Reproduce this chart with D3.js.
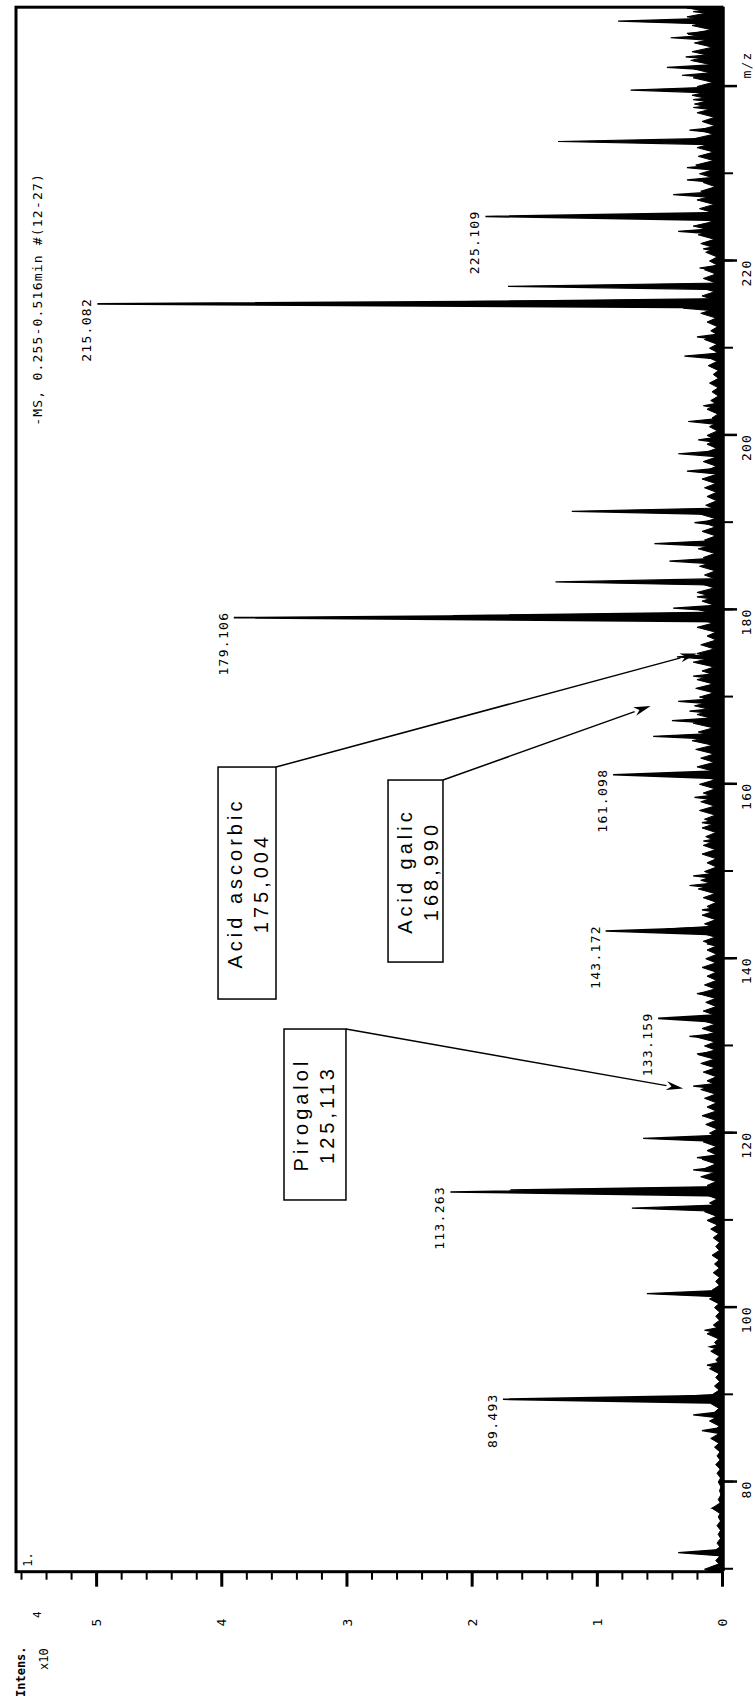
<!DOCTYPE html>
<html>
<head>
<meta charset="utf-8">
<script src="https://cdn.jsdelivr.net/npm/d3@7"></script>
<style>
  body { margin: 0; background: #fff; }
  svg { display: block; }
</style>
</head>
<body>
<svg id="chart" width="755" height="1700"></svg>
<script>
// Labelled peaks of the -MS spectrum (m/z, intensity x10^4)
const peakMz     = [89.493, 113.263, 133.159, 143.172, 161.098, 179.106, 215.082, 225.109];
const peakInt    = [1.75, 2.17, 0.51, 0.93, 0.87, 3.90, 4.99, 1.89];
const peakLabels = ["89.493", "113.263", "133.159", "143.172", "161.098", "179.106", "215.082", "225.109"];

// Unlabelled peaks and shoulders
const minorMz  = [71.9, 77.0, 85.9, 87.7, 89.7, 93.4, 95.5, 97.4, 101.6, 111.4, 113.5, 115.8, 117.2, 119.4, 125.4, 129.1,
                  131.1, 136.0, 141.7, 143.4, 145.6, 148.4, 149.5, 153.5, 155.6, 158.5, 165.5, 167.3, 168.4, 169.5,
                  172.4, 174.6, 179.35, 180.2, 181.5, 183.2, 185.6, 187.6, 190.0, 191.3, 195.9, 197.9, 199.5, 201.6,
                  203.4, 209.1, 211.3, 214.6, 215.3, 217.1, 219.2, 221.4, 223.4, 227.6, 229.3, 230.7, 233.7, 235.0,
                  237.6, 238.5, 239.6, 241.3, 242.2, 243.4, 245.6, 246.1, 247.5, 248.6, 249.0];
const minorInt = [0.35, 0.08, 0.16, 0.23, 0.45, 0.12, 0.10, 0.14, 0.60, 0.72, 1.69, 0.23, 0.20, 0.63, 0.23, 0.20,
                  0.26, 0.20, 0.12, 0.45, 0.16, 0.26, 0.23, 0.15, 0.16, 0.22, 0.55, 0.40, 0.26, 0.35,
                  0.23, 0.36, 2.15, 0.39, 0.20, 1.33, 0.42, 0.54, 0.22, 1.20, 0.28, 0.35, 0.19, 0.27,
                  0.15, 0.30, 0.20, 0.31, 2.40, 1.71, 0.18, 0.15, 0.35, 0.39, 0.28, 0.28, 1.31, 0.26,
                  0.23, 0.23, 0.73, 0.32, 0.44, 0.29, 0.41, 0.28, 0.83, 0.23, 0.28];

// Background noise, one value per nominal mass from m/z 70 to 249
const noiseStartMz = 70;
const noiseInt = [
  0.14, 0.05, 0.07, 0.04, 0.03, 0.04, 0.03, 0.08, 0.03, 0.02,
  0.03, 0.04, 0.05, 0.04, 0.06, 0.09, 0.05, 0.10, 0.06, 0.09,
  0.08, 0.06, 0.05, 0.10, 0.05, 0.09, 0.06, 0.12, 0.07, 0.05,
  0.06, 0.10, 0.08, 0.05, 0.07, 0.06, 0.08, 0.05, 0.07, 0.09,
  0.12, 0.14, 0.10, 0.14, 0.12, 0.17, 0.13, 0.16, 0.12, 0.15,
  0.10, 0.13, 0.16, 0.12, 0.14, 0.17, 0.12, 0.15, 0.17, 0.19,
  0.14, 0.20, 0.16, 0.18, 0.15, 0.13, 0.19, 0.14, 0.12, 0.16,
  0.13, 0.12, 0.15, 0.18, 0.14, 0.16, 0.12, 0.15, 0.19, 0.17,
  0.14, 0.12, 0.16, 0.15, 0.13, 0.16, 0.14, 0.18, 0.17, 0.15,
  0.18, 0.16, 0.20, 0.17, 0.21, 0.24, 0.19, 0.23, 0.20, 0.22,
  0.18, 0.21, 0.20, 0.16, 0.23, 0.20, 0.17, 0.12, 0.20, 0.22,
  0.18, 0.16, 0.20, 0.17, 0.14, 0.18, 0.15, 0.19, 0.14, 0.16,
  0.15, 0.18, 0.13, 0.12, 0.14, 0.16, 0.12, 0.15, 0.14, 0.12,
  0.12, 0.10, 0.08, 0.12, 0.09, 0.08, 0.10, 0.07, 0.11, 0.12,
  0.10, 0.14, 0.09, 0.12, 0.17, 0.21, 0.16, 0.19, 0.15, 0.14,
  0.10, 0.13, 0.17, 0.19, 0.23, 0.21, 0.18, 0.20, 0.17, 0.15,
  0.18, 0.21, 0.19, 0.20, 0.23, 0.18, 0.16, 0.20, 0.22, 0.24,
  0.20, 0.23, 0.22, 0.25, 0.24, 0.22, 0.27, 0.24, 0.28, 0.26
];

// Axis ticks
const intensMinorTicks = d3.range(0, 5.61, 0.2);
const intensTickLabels = [0, 1, 2, 3, 4, 5];
const mzMinorTicks = d3.range(70, 241, 10);
const mzMajorTicks = [80, 100, 120, 140, 160, 180, 200, 220, 240];

// Compound annotations
const annotNames  = ["Acid ascorbic", "Acid galic", "Pirogalol"];
const annotValues = ["175,004", "168,990", "125,113"];
const annotMz     = [175.004, 168.990, 125.113];

// ---------------------------------------------------------------------------
// The spectrum is laid out landscape (m/z across, intensity up) and the
// whole drawing is turned a quarter turn so m/z runs up the page.
const LW = 1700;
const svg = d3.select("#chart");
const g = svg.append("g").attr("transform", `translate(0,${LW}) rotate(-90)`);

const x = d3.scaleLinear().domain([69.72, 249.1]).range([128.3, 1692.8]);
const y = d3.scaleLinear().domain([0, 5.64]).range([722, 16]);

const mono = "'DejaVu Sans Mono', monospace";

g.append("defs").append("clipPath").attr("id", "plotClip")
  .append("rect")
  .attr("x", x.range()[0]).attr("y", y.range()[1])
  .attr("width", x.range()[1] - x.range()[0])
  .attr("height", y.range()[0] - y.range()[1]);

// Spectrum
const spec = g.append("g").attr("clip-path", "url(#plotClip)");
function spike(m, v, hw) {
  return `M${x(m - hw)},${y(0)}L${x(m)},${y(v)}L${x(m + hw)},${y(0)}Z`;
}
const noise = noiseInt.map((v, i) => ({ m: noiseStartMz + i, v }));
spec.selectAll("path.noise").data(noise).join("path")
  .attr("class", "noise")
  .attr("d", d => spike(d.m, d.v, 0.75))
  .attr("fill", "#000").attr("stroke", "#000").attr("stroke-width", 1);

const minor = minorMz.map((m, i) => ({ m, v: minorInt[i] }));
spec.selectAll("path.minor").data(minor).join("path")
  .attr("class", "minor")
  .attr("d", d => spike(d.m, d.v, 0.38))
  .attr("fill", "#000").attr("stroke", "#000").attr("stroke-width", 1.2)
  .attr("stroke-linejoin", "miter");

const peaks = peakMz.map((m, i) => ({ m, v: peakInt[i], label: peakLabels[i] }));
spec.selectAll("path.peak").data(peaks).join("path")
  .attr("class", "peak")
  .attr("d", d => spike(d.m, d.v, 0.45))
  .attr("fill", "#000").attr("stroke", "#000").attr("stroke-width", 1.6)
  .attr("stroke-linejoin", "miter");

// Peak labels
g.selectAll("text.plabel").data(peaks).join("text")
  .attr("class", "plabel")
  .attr("x", d => x(d.m) + 6)
  .attr("y", d => y(d.v) - 6)
  .attr("text-anchor", "end")
  .attr("font-family", mono).attr("font-size", 13)
  .attr("letter-spacing", 1.3)
  .text(d => d.label);

// Frame
g.append("rect")
  .attr("x", x.range()[0]).attr("y", y.range()[1])
  .attr("width", x.range()[1] - x.range()[0])
  .attr("height", y.range()[0] - y.range()[1])
  .attr("fill", "none").attr("stroke", "#000").attr("stroke-width", 3);

// m/z axis
const xAxisY = y(0) + 1;
const xMinor = g.append("g").attr("transform", `translate(0,${xAxisY})`)
  .call(d3.axisBottom(x).tickValues(mzMinorTicks).tickSize(10).tickSizeOuter(0).tickFormat(""));
xMinor.select(".domain").attr("stroke-width", 2.5);
xMinor.selectAll(".tick line").attr("stroke-width", 2);

const xMajor = g.append("g").attr("transform", `translate(0,${xAxisY})`)
  .call(d3.axisBottom(x).tickValues(mzMajorTicks).tickSize(14).tickSizeOuter(0)
    .tickFormat(d => d === 240 ? "" : d));
xMajor.select(".domain").remove();
xMajor.selectAll(".tick line").attr("stroke-width", 2.5);
xMajor.selectAll(".tick text")
  .attr("text-anchor", "end").attr("x", 1).attr("y", 28).attr("dy", null)
  .attr("font-family", mono).attr("font-size", 13).attr("letter-spacing", 1.2)
  .attr("fill", "#000");

g.append("text")
  .attr("x", x(240) + 8).attr("y", xAxisY + 28)
  .attr("font-family", mono).attr("font-size", 13).attr("letter-spacing", 1.2)
  .text("m/z");

// Intensity axis
const yMinor = g.append("g").attr("transform", `translate(${x.range()[0]},0)`)
  .call(d3.axisLeft(y).tickValues(intensMinorTicks).tickSize(8).tickSizeOuter(0).tickFormat(""));
yMinor.select(".domain").remove();
yMinor.selectAll(".tick line").attr("stroke-width", 2);

const yMajor = g.append("g").attr("transform", `translate(${x.range()[0]},0)`)
  .call(d3.axisLeft(y).tickValues(intensTickLabels).tickSize(15).tickSizeOuter(0).tickFormat(d3.format("d")));
yMajor.select(".domain").remove();
yMajor.selectAll(".tick line").attr("stroke-width", 3);
yMajor.selectAll(".tick text")
  .attr("text-anchor", "middle").attr("x", -51).attr("dy", "0.35em")
  .attr("font-family", mono).attr("font-size", 13).attr("fill", "#000");

// Intensity unit
g.append("text")
  .attr("x", 3).attr("y", 25)
  .attr("font-family", mono).attr("font-size", 12).attr("font-weight", "bold")
  .text("Intens.");
g.append("text")
  .attr("x", 30).attr("y", 48)
  .attr("font-family", mono).attr("font-size", 12)
  .text("x10");
g.append("text")
  .attr("x", 82).attr("y", 41)
  .attr("font-family", mono).attr("font-size", 11)
  .text("4");

// Trace number and spectrum title
g.append("text")
  .attr("x", x.range()[0] + 5).attr("y", 32)
  .attr("font-family", mono).attr("font-size", 12)
  .text("1.");
g.append("text")
  .attr("x", 1527).attr("y", 42)
  .attr("text-anchor", "end")
  .attr("font-family", mono).attr("font-size", 13).attr("letter-spacing", 1.2)
  .text("-MS, 0.255-0.516min #(12-27)");

// Compound boxes with arrows to their m/z
const boxLayout = [
  { mz0: 135.38, mz1: 161.98, top: 4.026, bottom: 3.563, tip: 0.20 },
  { mz0: 139.62, mz1: 160.49, top: 2.668, bottom: 2.229, tip: 0.57 },
  { mz0: 112.34, mz1: 131.94, top: 3.499, bottom: 3.004, tip: 0.31 }
];
const annots = annotNames.map((n, i) => ({ name: n, value: annotValues[i], mz: annotMz[i], ...boxLayout[i] }));

const ann = g.selectAll("g.annot").data(annots).join("g").attr("class", "annot");
ann.append("rect")
  .attr("x", d => x(d.mz0)).attr("y", d => y(d.top))
  .attr("width", d => x(d.mz1) - x(d.mz0))
  .attr("height", d => y(d.bottom) - y(d.top))
  .attr("fill", "#fff").attr("stroke", "#000").attr("stroke-width", 1.5);
ann.append("text")
  .attr("x", d => (x(d.mz0) + x(d.mz1)) / 2)
  .attr("y", d => y(d.top) + 24)
  .attr("text-anchor", "middle")
  .attr("font-family", "'Liberation Sans', Arial, sans-serif")
  .attr("font-size", 20).attr("letter-spacing", 4)
  .text(d => d.name);
ann.append("text")
  .attr("x", d => (x(d.mz0) + x(d.mz1)) / 2)
  .attr("y", d => y(d.top) + 50)
  .attr("text-anchor", "middle")
  .attr("font-family", "'Liberation Sans', Arial, sans-serif")
  .attr("font-size", 20).attr("letter-spacing", 4)
  .text(d => d.value);

ann.each(function (d) {
  const sx = x(d.mz1), sy = y(d.bottom);
  const tx = x(d.mz), ty = y(d.tip);
  const ang = Math.atan2(ty - sy, tx - sx);
  const len = 17, hw = 4.5;
  const bx = tx - len * Math.cos(ang), by = ty - len * Math.sin(ang);
  const px = -Math.sin(ang) * hw, py = Math.cos(ang) * hw;
  const sel = d3.select(this);
  sel.append("line")
    .attr("x1", sx).attr("y1", sy).attr("x2", bx).attr("y2", by)
    .attr("stroke", "#000").attr("stroke-width", 1.5);
  sel.append("path")
    .attr("d", `M${tx},${ty}L${bx + px},${by + py}L${tx - 0.7 * len * Math.cos(ang)},${ty - 0.7 * len * Math.sin(ang)}L${bx - px},${by - py}Z`)
    .attr("fill", "#000");
});
</script>
</body>
</html>
